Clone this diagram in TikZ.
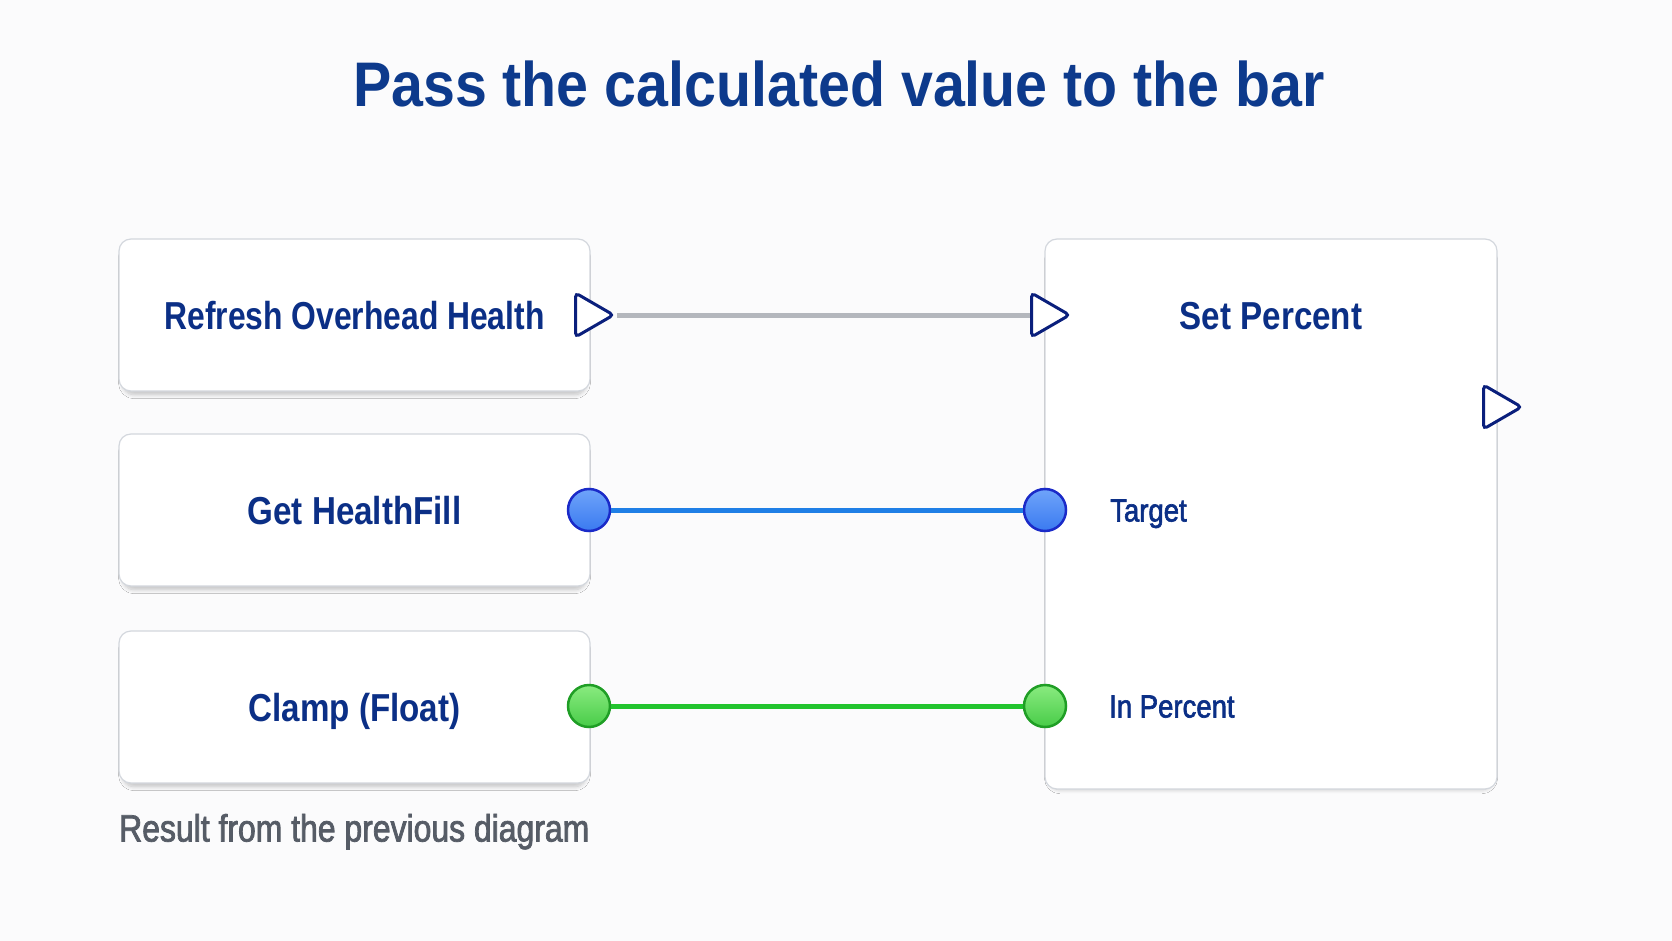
\documentclass[tikz,border=0pt]{standalone}
\usepackage{fontspec}
\setmainfont{Liberation Sans}
\newfontfamily\nodefont[FakeStretch=0.85]{Liberation Sans}
\newfontfamily\titlefont[FakeStretch=0.91]{Liberation Sans}
\newfontfamily\pinfont[FakeStretch=0.86, FakeBold=2]{Liberation Sans}
\newfontfamily\notefont[FakeStretch=0.84, FakeBold=2]{Liberation Sans}
\usetikzlibrary{shadows.blur, shapes.geometric}
\definecolor{bg}{HTML}{FBFBFC}
\definecolor{navy}{HTML}{0B2F86}
\definecolor{titleblue}{HTML}{0D3A8C}
\definecolor{boxborder}{HTML}{D3D7DD}
\definecolor{execc}{HTML}{0A1F7C}
\definecolor{wiregray}{HTML}{B4B7BD}
\definecolor{wireblue}{HTML}{1F7FE6}
\definecolor{pinbluetop}{HTML}{6FA4FA}
\definecolor{pinbluebot}{HTML}{3A7AF0}
\definecolor{pinblueedge}{HTML}{1A2AC8}
\definecolor{wiregreen}{HTML}{22C42E}
\definecolor{pingreentop}{HTML}{8AEB80}
\definecolor{pingreenbot}{HTML}{48CC48}
\definecolor{pingreenedge}{HTML}{1F9E25}
\definecolor{notegray}{HTML}{565C66}
\begin{document}
\begin{tikzpicture}[x=1pt,y=-1pt,
  nodebox/.style={draw=boxborder, line width=1.2pt, fill=white, rounded corners=12pt,
    blur shadow={shadow xshift=0pt, shadow yshift=-5pt, shadow scale=0.985, shadow blur radius=4pt, shadow opacity=22, shadow blur steps=8},
    inner sep=0pt, text height=28pt, text depth=0pt,
    font=\nodefont\bfseries\fontsize{39}{47}\selectfont, text=navy},
  titletext/.style={font=\titlefont\bfseries\fontsize{63}{70}\selectfont, text=titleblue, inner sep=0pt, anchor=base},
  boxlabel/.style={font=\nodefont\bfseries\fontsize{39}{47}\selectfont, text=navy, inner sep=0pt, text height=28pt, text depth=0pt},
  pinlabel/.style={font=\pinfont\fontsize{32}{38}\selectfont, text=navy, inner sep=0pt, text height=23pt, text depth=0pt, anchor=west},
  notetext/.style={font=\notefont\fontsize{38}{44}\selectfont, text=notegray, inner sep=0pt, text height=27pt, text depth=0pt, anchor=west},
  execpin/.style={isosceles triangle, isosceles triangle stretches, minimum width=44pt, minimum height=38pt,
    inner sep=0pt, draw=execc, line width=3pt, fill=white, rounded corners=4pt, anchor=west},
  bluepin/.style={circle, minimum size=42pt, inner sep=0pt, draw=pinblueedge, line width=2.5pt,
    top color=pinbluetop, bottom color=pinbluebot},
  greenpin/.style={circle, minimum size=42pt, inner sep=0pt, draw=pingreenedge, line width=2.5pt,
    top color=pingreentop, bottom color=pingreenbot},
  wire/.style={line width=5pt}
]
\fill[bg] (0,0) rectangle (1672,941);
\useasboundingbox (0,0) rectangle (1672,941);

\node[titletext] (title) at (839,107) {Pass the calculated value to the bar};

\node[nodebox, minimum width=471pt, minimum height=152pt] (refresh) at (354.5,315) {\scalebox{0.96}[1]{Refresh Overhead Health}};
\node[nodebox, minimum width=471pt, minimum height=152pt] (gethf) at (354.5,510) {Get HealthFill};
\node[nodebox, minimum width=471pt, minimum height=152pt] (clamp) at (354.5,707) {Clamp (Float)};
\node[nodebox, minimum width=452pt, minimum height=550pt] (setp) at (1271,514) {};
\node[boxlabel] (setplabel) at (1271,315) {Set Percent};

\node[execpin] (rout) at (574,315) {};
\node[execpin] (sin) at (1030,315) {};
\node[execpin] (sout) at (1482,407) {};

\node[bluepin] (hfout) at (589,510) {};
\node[bluepin] (tin) at (1045,510) {};
\node[greenpin] (cout) at (589,706) {};
\node[greenpin] (pin) at (1045,706) {};

\node[pinlabel] (tlabel) at (1110,510) {Target};
\node[pinlabel] (plabel) at (1109,706) {In Percent};

\draw[wire, wiregray] (rout.east) -- (sin.west);
\draw[wire, wireblue] (hfout.east) -- (tin.west);
\draw[wire, wiregreen] (cout.east) -- (pin.west);

\node[notetext] (note) at (119,828) {Result from the previous diagram};
\end{tikzpicture}
\end{document}
